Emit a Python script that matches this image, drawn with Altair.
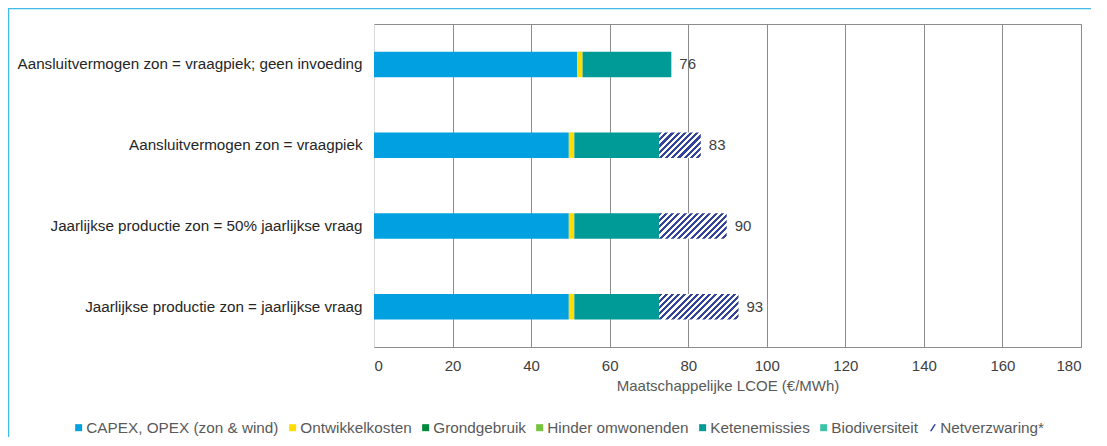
import altair as alt
import pandas as pd

# ---- data ----
categories = [
    "Aansluitvermogen zon = vraagpiek; geen invoeding",
    "Aansluitvermogen zon = vraagpiek",
    "Jaarlijkse productie zon = 50% jaarlijkse vraag",
    "Jaarlijkse productie zon =  jaarlijkse vraag",
]
capex = [51.7, 49.6, 49.6, 49.6]
ontwikkel = [1.4, 1.4, 1.4, 1.4]
keten = [22.6, 21.6, 21.6, 21.6]
netverzwaring = [0.0, 10.6, 17.2, 20.2]
total_labels = ["76", "83", "90", "93"]

posts = [
    "CAPEX, OPEX (zon & wind)",
    "Ontwikkelkosten",
    "Grondgebruik",
    "Hinder omwonenden",
    "Ketenemissies",
    "Biodiversiteit",
    "Netverzwaring*",
]
post_colors = ["#00A0E1", "#FFDD00", "#00893A", "#74C43F", "#009B97", "#3EC3A9", "#33449A"]
NAVY = "#33449A"

FONT = "Liberation Sans"
W, H = 707, 323
BAR_H = 25.5
PX = W / 180.0

# ---- tables ----
rows = []
for i, c in enumerate(categories):
    for j, (p, v) in enumerate([(posts[0], capex[i]), (posts[1], ontwikkel[i]), (posts[4], keten[i])]):
        rows.append({"cat": c, "post": p, "value": v, "order": j})
stack_df = pd.DataFrame(rows)

label_df = pd.DataFrame({
    "cat": categories,
    "total": [a + b + k + n for a, b, k, n in zip(capex, ontwikkel, keten, netverzwaring)],
    "label": total_labels,
})

legend_df = pd.DataFrame({"post": posts})

y_enc = alt.Y("cat:N", sort=categories, title=None,
              scale=alt.Scale(paddingInner=0, paddingOuter=0),
              axis=alt.Axis(labelFont=FONT, labelFontSize=15.2, labelColor="#262626",
                            labelPadding=12, ticks=False, domainColor="#D9D9D9",
                            labelLimit=400))
x_scale = alt.Scale(domain=[0, 180], nice=False)

color_scale = alt.Scale(domain=posts, range=post_colors)
slash = "M-0.8,1L0.45,-1L0.95,-1L-0.3,1Z"
shape_scale = alt.Scale(domain=posts, range=["square"] * 6 + [slash])


def make_legend():
    return alt.Legend(
        title=None, orient="none", direction="horizontal", legendX=-303, legendY=396,
        labelFont=FONT, labelFontSize=15.3, labelColor="#595959", labelOffset=0,
        labelLimit=300, columnPadding=6, symbolSize=49, symbolStrokeWidth=0)


bars = alt.Chart(stack_df).mark_bar(size=BAR_H).encode(
    y=y_enc,
    x=alt.X("value:Q", stack="zero", scale=x_scale,
            title="Maatschappelijke LCOE (€/MWh)",
            axis=alt.Axis(values=list(range(0, 181, 20)), ticks=False,
                          labelFont=FONT, labelFontSize=15, labelColor="#404040",
                          labelPadding=11, titleFont=FONT, titleFontSize=15,
                          titleFontWeight="normal", titleColor="#595959",
                          titlePadding=5, gridColor="#8C8C8C", domainColor="#8C8C8C")),
    color=alt.Color("post:N", scale=color_scale, legend=make_legend()),
    order=alt.Order("order:Q"),
)


def hatch_gradient(w_units):
    w = w_units * PX
    h = BAR_H
    s = (w + h) / (w * w + h * h)
    n = (w + h) / 6.2
    stops = []
    k = 0
    while k < n:
        a = k / n
        b = min((k + 0.5) / n, 1.0)
        c = min((k + 1) / n, 1.0)
        stops += [
            alt.GradientStop(offset=a, color=NAVY),
            alt.GradientStop(offset=b, color=NAVY),
            alt.GradientStop(offset=b, color="white"),
            alt.GradientStop(offset=c, color="white"),
        ]
        k += 1
    return alt.Gradient(gradient="linear", x1=0, y1=0, x2=w * s, y2=h * s, stops=stops)


hatch_layers = []
for i, c in enumerate(categories):
    if netverzwaring[i] <= 0:
        continue
    start = capex[i] + ontwikkel[i] + keten[i]
    df = pd.DataFrame({"cat": [c], "start": [start], "end": [start + netverzwaring[i]]})
    hatch_layers.append(
        alt.Chart(df).mark_bar(size=BAR_H, color=hatch_gradient(netverzwaring[i])).encode(
            y=alt.Y("cat:N", sort=categories),
            x=alt.X("start:Q", scale=x_scale),
            x2="end:Q",
        )
    )

labels = alt.Chart(label_df).mark_text(
    align="left", baseline="middle", dx=8, font=FONT, fontSize=15, color="#404040"
).encode(
    y=alt.Y("cat:N", sort=categories),
    x=alt.X("total:Q", scale=x_scale),
    text="label:N",
)

legend = alt.Chart(legend_df).transform_filter("false").mark_point(filled=True, opacity=1).encode(
    color=alt.Color("post:N", scale=color_scale, legend=make_legend()),
    shape=alt.Shape("post:N", scale=shape_scale, legend=make_legend()),
)

frame = alt.Chart(pd.DataFrame({"a": [0]})).mark_rect(
    filled=False, stroke="#41BBEA", strokeWidth=1.5
).encode(
    x=alt.value(-365.5), x2=alt.value(3000), y=alt.value(-15.5), y2=alt.value(3000)
)

chart = alt.layer(bars, *hatch_layers, labels, legend, frame).properties(
    width=W, height=H,
    padding={"left": 366, "top": 16, "right": 10, "bottom": 90},
    autosize=alt.AutoSizeParams(type="none"),
).configure_view(stroke="#8C8C8C", strokeWidth=1).configure_axis(grid=True).configure_axisY(grid=False)

chart.save("out.html", embed_options={"renderer": "svg", "actions": False})
